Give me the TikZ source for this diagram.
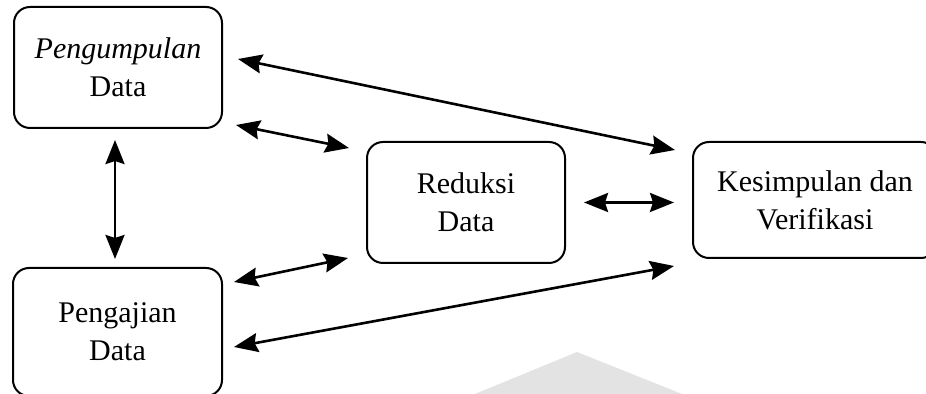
\documentclass[tikz,border=0pt]{standalone}
\usepackage{fontspec}
\setmainfont{Liberation Serif}
\usetikzlibrary{arrows.meta}

\tikzset{
  tahap/.style={draw, line width=1pt, rounded corners=8pt, align=center,
    inner sep=0pt, font=\fontsize{15}{19}\selectfont},
  alur/.style={line width=1.3pt,
    {Stealth[length=12pt,width=9.5pt,inset=1.5pt]}-{Stealth[length=12pt,width=9.5pt,inset=1.5pt]}}
}

\begin{document}
\begin{tikzpicture}[x=0.5pt, y=-0.5pt]
  \useasboundingbox (0,0) rectangle (926,394);
  \clip (0,0) rectangle (926,394);
  % === faint mark at the bottom ===
  \fill[gray!22] (475,394) -- (577,352) -- (682,394) -- cycle;
  % === the four stages ===
  \node[tahap, minimum width=104pt, minimum height=60.5pt] (kumpul) at (118,67.5)
    {\textit{Pengumpulan}\\Data};
  \node[tahap, minimum width=104.5pt, minimum height=64pt] (saji) at (117.5,332)
    {Pengajian\\Data};
  \node[tahap, minimum width=99pt, minimum height=60.5pt] (reduksi) at (466,202.5)
    {Reduksi\\Data};
  \node[tahap, minimum width=122pt, minimum height=58pt] (simpul) at (815,200)
    {Kesimpulan dan\\Verifikasi};
  % === two-way flows ===
  \draw[alur] ([shift={(15,-8.5)}]kumpul.east) -- ([shift={(-17,-50)}]simpul.west);
  \draw[alur] ([shift={(13,57.5)}]kumpul.east) -- ([shift={(-17,-54.5)}]reduksi.west);
  \draw[alur] ([shift={(-3,11)}]kumpul.south) -- ([shift={(-2.5,-8)}]saji.north);
  \draw[alur] ([shift={(11,-50)}]saji.east) -- ([shift={(-18,55.5)}]reduksi.west);
  \draw[alur] ([shift={(11,15)}]saji.east) -- ([shift={(-18,66)}]simpul.west);
  \draw[alur] ([xshift=9pt]reduksi.east) -- ([xshift=-9pt]reduksi.east -| simpul.west);
\end{tikzpicture}
\end{document}
